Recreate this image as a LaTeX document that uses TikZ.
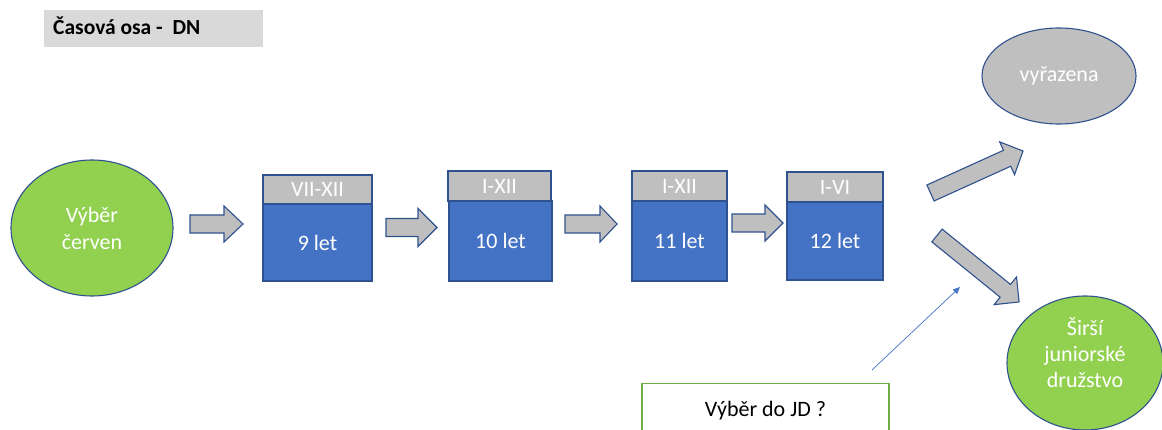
\documentclass[tikz,border=0pt]{standalone}
\usepackage{fontspec}
\setmainfont{Carlito}
\usetikzlibrary{shapes.geometric,arrows.meta}
\definecolor{bfill}{HTML}{4472C4}
\definecolor{bline}{HTML}{2F528F}
\definecolor{gfill}{HTML}{BFBFBF}
\definecolor{grfill}{HTML}{92D050}
\definecolor{tboxfill}{HTML}{D9D9D9}
\definecolor{tgreen}{HTML}{70AD47}
\definecolor{thinblue}{HTML}{4472C4}
\tikzset{
  txt/.style={font=\fontsize{22}{27}\selectfont},
  hdr/.style={draw=bline, line width=1.1pt, fill=gfill, text=white, txt, inner sep=0pt},
  bodybox/.style={draw=bline, line width=1.1pt, fill=bfill, text=white, txt, inner sep=0pt},
  oval/.style={ellipse, draw=bline, line width=1.1pt, text=white, txt, align=center, inner sep=0pt},
  blockarrowstyle/.style={draw=bline, line width=1.1pt, fill=gfill, line join=miter},
}
% x, y, angle, length, head length, body half width, head half width
\newcommand{\blockarrow}[7]{%
  \draw[blockarrowstyle, shift={(#1,#2)}, rotate=#3]
    (0,-#6) -- ({#4-#5},-#6) -- ({#4-#5},-#7) -- (#4,0) -- ({#4-#5},#7) -- ({#4-#5},#6) -- (0,#6) -- cycle;}
\begin{document}
\begin{tikzpicture}[x=1pt,y=-1pt]
\clip (0,0) rectangle (1162,430);
\fill[white] (0,0) rectangle (1162,430);

% title
\node[fill=tboxfill, minimum width=219, minimum height=37, inner sep=0pt, anchor=north west] (title) at (44,10) {};
\node[anchor=base west, font=\fontsize{21.5}{25}\selectfont\bfseries, inner sep=0pt] (titletext) at (53,35) {Časová osa -\ \ DN};

% left ellipse
\node[oval, fill=grfill, minimum width=162, minimum height=136] (vyber) at (92,228) {Výběr\\červen};

% boxes
\node[hdr, minimum width=109, minimum height=29] (h1) at (317.5,189.5) {VII-XII};
\node[bodybox, minimum width=109, minimum height=77] (b1) at (317.5,242.5) {9 let};
\node[hdr, minimum width=103, minimum height=30] (h2) at (499.5,186) {I-XII};
\node[bodybox, minimum width=103, minimum height=80] (b2) at (500.5,241) {10 let};
\node[hdr, minimum width=95, minimum height=30] (h3) at (679.5,186) {I-XII};
\node[bodybox, minimum width=95, minimum height=80] (b3) at (679.5,241) {11 let};
\node[hdr, minimum width=96, minimum height=30] (h4) at (835,187) {I-VI};
\node[bodybox, minimum width=96, minimum height=78] (b4) at (835,241) {12 let};

% horizontal block arrows
\blockarrow{190}{224}{0}{53}{19}{9}{18}
\blockarrow{386}{227.5}{0}{51}{19}{9}{19}
\blockarrow{565}{224}{0}{52}{17}{9}{18}
\blockarrow{732}{223}{0}{51}{18}{9}{18}

% right shapes
\node[oval, fill=gfill, minimum width=154, minimum height=96] (vyr) at (1059,76) {vyřazena};
\node[oval, fill=grfill, minimum width=156, minimum height=134] (sirsi) at (1085,363) {};
\node[txt, text=white, align=center, inner sep=0pt] (sirsitext) at (1085,353) {Širší\\[-1pt]juniorské\\[-1pt]družstvo};

% diagonal block arrows
\blockarrow{930.5}{193}{24.4}{101.6}{17.5}{8.75}{18}
\blockarrow{937}{235.5}{-39}{105.6}{17.7}{8.2}{17.8}

% question box
\node[draw=tgreen, line width=1.2pt, fill=white, minimum width=247, minimum height=70, inner sep=0pt, anchor=north] (jd) at (765.5,383) {};
\node[txt, anchor=base, inner sep=0pt] (jdtext) at (765.5,416) {Výběr do JD ?};

% thin arrow
\coordinate (jdtail) at (872,370);
\coordinate (jdtip) at (960,287);
\draw[thinblue, line width=0.7pt, -{Triangle[length=7pt,width=6pt]}] (jdtail) -- (jdtip);
\end{tikzpicture}
\end{document}
